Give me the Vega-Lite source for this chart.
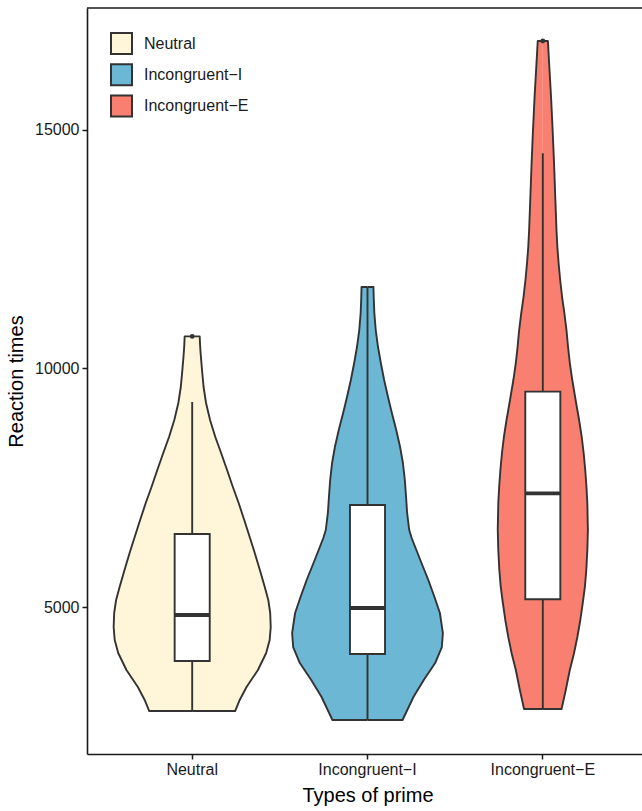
{
  "$schema": "https://vega.github.io/schema/vega-lite/v6.json",
  "autosize": "none",
  "width": 555,
  "height": 746,
  "padding": {"left": 87, "top": 8, "right": 0, "bottom": 57},
  "config": {"view": {"stroke": null}, "font": "Liberation Sans"},
  "datasets": {
    "violin": [
      {"cat": "Neutral", "value": 2827, "w": 0},
      {"cat": "Neutral", "value": 2827, "w": 0.245},
      {"cat": "Neutral", "value": 3058, "w": 0.271},
      {"cat": "Neutral", "value": 3330, "w": 0.31},
      {"cat": "Neutral", "value": 3686, "w": 0.375},
      {"cat": "Neutral", "value": 4042, "w": 0.422},
      {"cat": "Neutral", "value": 4314, "w": 0.442},
      {"cat": "Neutral", "value": 4586, "w": 0.448},
      {"cat": "Neutral", "value": 4879, "w": 0.445},
      {"cat": "Neutral", "value": 5151, "w": 0.434},
      {"cat": "Neutral", "value": 5424, "w": 0.414},
      {"cat": "Neutral", "value": 5779, "w": 0.386},
      {"cat": "Neutral", "value": 6135, "w": 0.357},
      {"cat": "Neutral", "value": 6470, "w": 0.328},
      {"cat": "Neutral", "value": 6826, "w": 0.297},
      {"cat": "Neutral", "value": 7182, "w": 0.265},
      {"cat": "Neutral", "value": 7517, "w": 0.232},
      {"cat": "Neutral", "value": 7873, "w": 0.199},
      {"cat": "Neutral", "value": 8229, "w": 0.165},
      {"cat": "Neutral", "value": 8564, "w": 0.132},
      {"cat": "Neutral", "value": 8920, "w": 0.102},
      {"cat": "Neutral", "value": 9276, "w": 0.079},
      {"cat": "Neutral", "value": 9611, "w": 0.065},
      {"cat": "Neutral", "value": 9967, "w": 0.056},
      {"cat": "Neutral", "value": 10323, "w": 0.048},
      {"cat": "Neutral", "value": 10490, "w": 0.045},
      {"cat": "Neutral", "value": 10670, "w": 0.043},
      {"cat": "Neutral", "value": 10670, "w": 0},
      {"cat": "Incongruent−I", "value": 2639, "w": 0},
      {"cat": "Incongruent−I", "value": 2639, "w": 0.2},
      {"cat": "Incongruent−I", "value": 3120, "w": 0.262},
      {"cat": "Incongruent−I", "value": 3476, "w": 0.321},
      {"cat": "Incongruent−I", "value": 3832, "w": 0.386},
      {"cat": "Incongruent−I", "value": 4167, "w": 0.424},
      {"cat": "Incongruent−I", "value": 4460, "w": 0.43},
      {"cat": "Incongruent−I", "value": 4879, "w": 0.413},
      {"cat": "Incongruent−I", "value": 5214, "w": 0.382},
      {"cat": "Incongruent−I", "value": 5570, "w": 0.347},
      {"cat": "Incongruent−I", "value": 5926, "w": 0.308},
      {"cat": "Incongruent−I", "value": 6261, "w": 0.272},
      {"cat": "Incongruent−I", "value": 6449, "w": 0.252},
      {"cat": "Incongruent−I", "value": 6617, "w": 0.238},
      {"cat": "Incongruent−I", "value": 6973, "w": 0.226},
      {"cat": "Incongruent−I", "value": 7308, "w": 0.22},
      {"cat": "Incongruent−I", "value": 7664, "w": 0.213},
      {"cat": "Incongruent−I", "value": 8020, "w": 0.202},
      {"cat": "Incongruent−I", "value": 8355, "w": 0.186},
      {"cat": "Incongruent−I", "value": 8711, "w": 0.164},
      {"cat": "Incongruent−I", "value": 9067, "w": 0.139},
      {"cat": "Incongruent−I", "value": 9402, "w": 0.117},
      {"cat": "Incongruent−I", "value": 9757, "w": 0.095},
      {"cat": "Incongruent−I", "value": 10113, "w": 0.076},
      {"cat": "Incongruent−I", "value": 10448, "w": 0.06},
      {"cat": "Incongruent−I", "value": 10804, "w": 0.047},
      {"cat": "Incongruent−I", "value": 11160, "w": 0.039},
      {"cat": "Incongruent−I", "value": 11432, "w": 0.036},
      {"cat": "Incongruent−I", "value": 11705, "w": 0.034},
      {"cat": "Incongruent−I", "value": 11705, "w": 0},
      {"cat": "Incongruent−E", "value": 2869, "w": 0},
      {"cat": "Incongruent−E", "value": 2869, "w": 0.107},
      {"cat": "Incongruent−E", "value": 3267, "w": 0.131},
      {"cat": "Incongruent−E", "value": 3686, "w": 0.154},
      {"cat": "Incongruent−E", "value": 4021, "w": 0.177},
      {"cat": "Incongruent−E", "value": 4377, "w": 0.197},
      {"cat": "Incongruent−E", "value": 4733, "w": 0.214},
      {"cat": "Incongruent−E", "value": 5089, "w": 0.228},
      {"cat": "Incongruent−E", "value": 5424, "w": 0.24},
      {"cat": "Incongruent−E", "value": 5779, "w": 0.248},
      {"cat": "Incongruent−E", "value": 6198, "w": 0.254},
      {"cat": "Incongruent−E", "value": 6617, "w": 0.257},
      {"cat": "Incongruent−E", "value": 7182, "w": 0.254},
      {"cat": "Incongruent−E", "value": 7517, "w": 0.249},
      {"cat": "Incongruent−E", "value": 7873, "w": 0.242},
      {"cat": "Incongruent−E", "value": 8229, "w": 0.233},
      {"cat": "Incongruent−E", "value": 8564, "w": 0.222},
      {"cat": "Incongruent−E", "value": 8920, "w": 0.207},
      {"cat": "Incongruent−E", "value": 9276, "w": 0.19},
      {"cat": "Incongruent−E", "value": 9757, "w": 0.168},
      {"cat": "Incongruent−E", "value": 10113, "w": 0.154},
      {"cat": "Incongruent−E", "value": 10448, "w": 0.144},
      {"cat": "Incongruent−E", "value": 10804, "w": 0.135},
      {"cat": "Incongruent−E", "value": 11160, "w": 0.123},
      {"cat": "Incongruent−E", "value": 11495, "w": 0.11},
      {"cat": "Incongruent−E", "value": 11851, "w": 0.099},
      {"cat": "Incongruent−E", "value": 12207, "w": 0.09},
      {"cat": "Incongruent−E", "value": 12542, "w": 0.083},
      {"cat": "Incongruent−E", "value": 12898, "w": 0.078},
      {"cat": "Incongruent−E", "value": 13589, "w": 0.071},
      {"cat": "Incongruent−E", "value": 14301, "w": 0.064},
      {"cat": "Incongruent−E", "value": 14992, "w": 0.056},
      {"cat": "Incongruent−E", "value": 15683, "w": 0.047},
      {"cat": "Incongruent−E", "value": 16394, "w": 0.036},
      {"cat": "Incongruent−E", "value": 16855, "w": 0.029},
      {"cat": "Incongruent−E", "value": 16855, "w": 0}
    ],
    "box": [
      {"cat": "Neutral", "lower": 2827, "q1": 3874, "median": 4837, "q3": 6533, "upper": 9297},
      {"cat": "Incongruent−I", "lower": 2639, "q1": 4021, "median": 4984, "q3": 7140, "upper": 11705},
      {"cat": "Incongruent−E", "lower": 2869, "q1": 5166, "median": 7385, "q3": 9513, "upper": 14504}
    ],
    "outliers": [
      {"cat": "Neutral", "value": 10670},
      {"cat": "Incongruent−E", "value": 16855}
    ]
  },
  "resolve": {"scale": {"xOffset": "independent"}},
  "layer": [
    {
      "data": {"name": "violin"},
      "mark": {"type": "line", "stroke": "#333333", "strokeWidth": 1.9, "strokeJoin": "round"},
      "encoding": {
        "x": {
          "field": "cat", "type": "nominal", "title": "Types of prime",
          "scale": {"domain": ["Neutral", "Incongruent−I", "Incongruent−E"], "range": [0, 561], "paddingInner": 0, "paddingOuter": 0.1},
          "axis": {"labelAngle": 0, "labelFontSize": 16, "labelColor": "#1a1a1a", "labelPadding": 2, "tickSize": 5, "tickWidth": 1.5, "tickColor": "#1a1a1a", "domainColor": "#1a1a1a", "domainWidth": 1.6, "titleFontSize": 20, "titleFontWeight": "normal", "titleColor": "#000000", "titlePadding": 8}
        },
        "xOffset": {"field": "w", "type": "quantitative", "scale": {"domain": [0, 0.5], "range": [87.656, 175.3125]}},
        "y": {
          "field": "value", "type": "quantitative", "title": "Reaction times",
          "scale": {"domain": [1927, 17546], "zero": false, "nice": false},
          "axis": {"values": [5000, 10000, 15000], "format": "d", "grid": false, "labelFontSize": 16, "labelColor": "#1a1a1a", "labelPadding": 3, "tickSize": 5, "tickWidth": 1.5, "tickColor": "#1a1a1a", "domainColor": "#1a1a1a", "domainWidth": 1.6, "titleFontSize": 20, "titleFontWeight": "normal", "titleColor": "#000000", "titlePadding": 8}
        },
        "fill": {
          "field": "cat", "type": "nominal",
          "scale": {"domain": ["Neutral", "Incongruent−I", "Incongruent−E"], "range": ["#FFF5D9", "#6BB7D4", "#F98071"]},
          "legend": {"title": null, "orient": "none", "legendX": 23, "legendY": 24, "symbolType": "square", "symbolSize": 441, "symbolStrokeColor": "#333333", "symbolStrokeWidth": 2, "labelFontSize": 16, "labelColor": "#1a1a1a", "labelOffset": 11, "rowPadding": 2.3, "padding": 0}
        },
        "order": {"value": null}
      }
    },
    {
      "data": {"name": "violin"},
      "mark": {"type": "line", "stroke": "#333333", "strokeWidth": 1.9, "strokeJoin": "round"},
      "encoding": {
        "x": {"field": "cat", "type": "nominal", "title": "Types of prime"},
        "xOffset": {"field": "w", "type": "quantitative", "scale": {"domain": [0, 0.5], "range": [87.656, 0]}},
        "y": {"field": "value", "type": "quantitative", "title": "Reaction times"},
        "fill": {"field": "cat", "type": "nominal"},
        "order": {"value": null}
      }
    },
    {
      "data": {"name": "box"},
      "mark": {"type": "rule", "color": "#333333", "strokeWidth": 1.9},
      "encoding": {
        "x": {"field": "cat", "type": "nominal", "title": "Types of prime"},
        "y": {"field": "lower", "type": "quantitative", "title": "Reaction times"},
        "y2": {"field": "upper"}
      }
    },
    {
      "data": {"name": "box"},
      "mark": {"type": "bar", "fill": "#ffffff", "stroke": "#333333", "strokeWidth": 1.9, "width": {"band": 0.2}},
      "encoding": {
        "x": {"field": "cat", "type": "nominal", "title": "Types of prime"},
        "y": {"field": "q1", "type": "quantitative", "title": "Reaction times"},
        "y2": {"field": "q3"}
      }
    },
    {
      "data": {"name": "box"},
      "mark": {"type": "tick", "orient": "horizontal", "size": 35, "thickness": 3.8, "color": "#333333", "opacity": 1},
      "encoding": {
        "x": {"field": "cat", "type": "nominal", "title": "Types of prime"},
        "y": {"field": "median", "type": "quantitative", "title": "Reaction times"}
      }
    },
    {
      "data": {"name": "outliers"},
      "mark": {"type": "point", "filled": true, "size": 24, "color": "#333333", "opacity": 1},
      "encoding": {
        "x": {"field": "cat", "type": "nominal", "title": "Types of prime"},
        "y": {"field": "value", "type": "quantitative", "title": "Reaction times"}
      }
    },
    {
      "data": {"values": [{}]},
      "mark": {"type": "rule", "color": "#1a1a1a", "strokeWidth": 1.6},
      "encoding": {"y": {"datum": 17546, "type": "quantitative"}}
    }
  ]
}
